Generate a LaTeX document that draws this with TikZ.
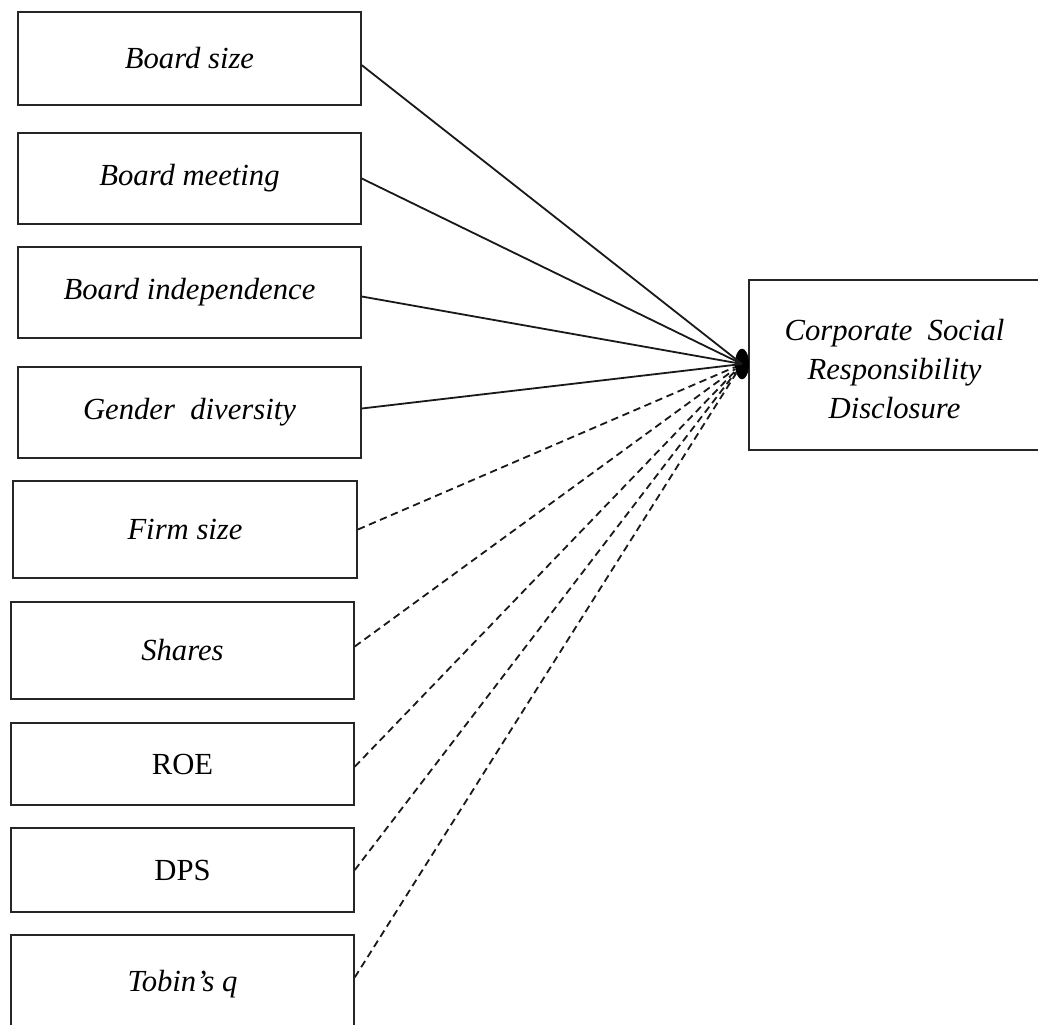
\documentclass[tikz,border=0pt]{standalone}
\usepackage{fontspec}
\setmainfont{Liberation Serif}
\usetikzlibrary{shapes.geometric}
\begin{document}
\begin{tikzpicture}[x=0.75pt,y=-0.75pt,
  varbox/.style={draw=black!85,line width=1.4pt,fill=white,rectangle,inner sep=0pt,
    minimum width=257pt,font=\fontsize{23}{29}\selectfont\itshape},
  plainbox/.style={varbox,font=\fontsize{23}{29}\selectfont},
  outbox/.style={draw=black!85,line width=1.4pt,rectangle,inner sep=0pt,
    font=\fontsize{23}{29.5}\selectfont\itshape},
  solidlink/.style={line width=1.35pt,black!90},
  dashlink/.style={line width=1.35pt,black!90,dash pattern=on 5.5pt off 3.5pt}]
\useasboundingbox (0,0) rectangle (1038,1024);
\clip (0,0) rectangle (1038,1024);
\fill[white] (0,0) rectangle (1038,1024);

% governance variables
\node[varbox,minimum height=69.75pt] (bs)  at (189.5,58.5)  {Board size};
\node[varbox,minimum height=68.25pt] (bm)  at (189.5,178.5) {Board meeting};
\node[varbox,minimum height=68.25pt] (bi)  at (189.5,292.5) {Board independence};
\node[varbox,minimum height=68.25pt] (gd)  at (189.5,412.5) {Gender\ \ diversity};
% control variables
\node[varbox,minimum width=258pt,minimum height=72.75pt] (fs) at (185,529.5) {Firm size};
\node[varbox,minimum height=72.75pt] (sh)  at (182.5,650.5) {Shares};
\node[plainbox,minimum height=61.5pt] (roe) at (182.5,764)  {ROE};
\node[plainbox,minimum height=63pt]   (dps) at (182.5,870)  {DPS};
\node[varbox,minimum height=73.5pt]   (tq)  at (182.5,984)  {Tobin’s q};

% dependent variable, text block set slightly below the box centre
\node[outbox,minimum width=218.25pt,minimum height=127.5pt] (csr) at (894.5,365)
  {\raisebox{-5pt}[\height][\depth]{\begin{tabular}{@{}c@{}}Corporate\ \ Social\\Responsibility\\Disclosure\end{tabular}}};

% junction point
\node[ellipse,fill=black,inner sep=0pt,minimum width=10.5pt,minimum height=23pt] (hub) at (742,364) {};

\draw[solidlink] ([yshift=-5pt]bs.east) -- (hub.center);
\draw[solidlink] (bm.east) -- (hub.center);
\draw[solidlink] ([yshift=-3pt]bi.east) -- (hub.center);
\draw[solidlink] ([yshift=3pt]gd.east) -- (hub.center);
\draw[dashlink] (fs.east) -- (hub);
\draw[dashlink] ([yshift=3pt]sh.east) -- (hub);
\draw[dashlink] ([yshift=-2pt]roe.east) -- (hub);
\draw[dashlink] (dps.east) -- (hub);
\draw[dashlink] ([yshift=5pt]tq.east) -- (hub);
\end{tikzpicture}
\end{document}
